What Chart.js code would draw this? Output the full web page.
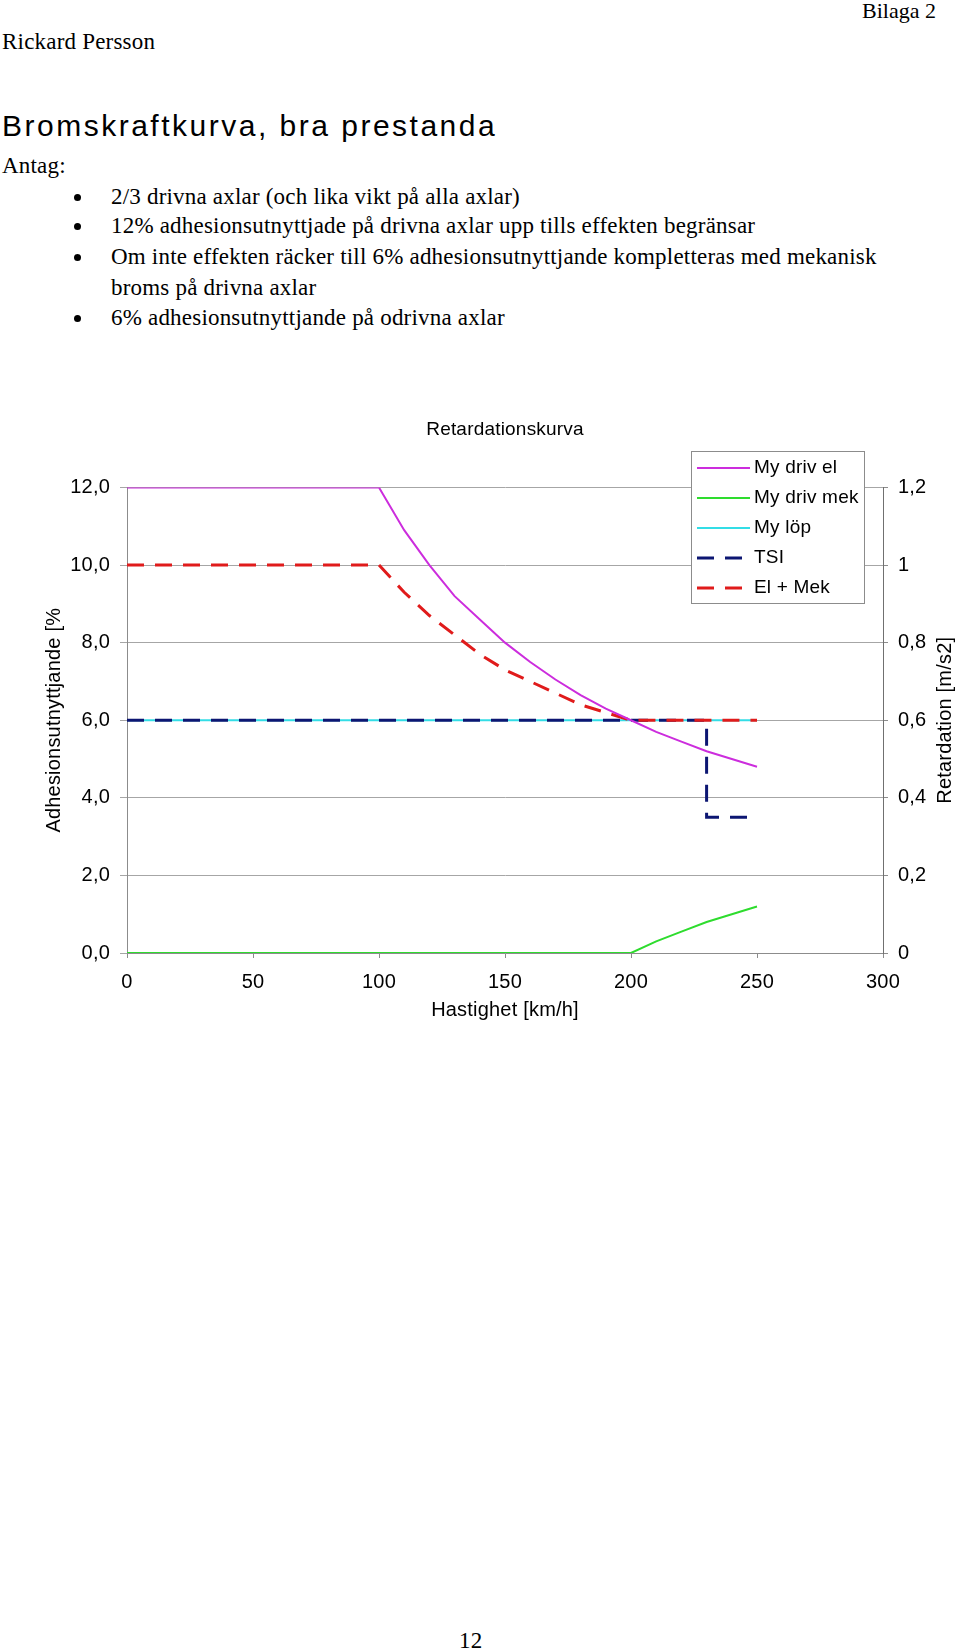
<!DOCTYPE html>
<html>
<head>
<meta charset="utf-8">
<script src="https://cdn.jsdelivr.net/npm/chart.js@4.4.0/dist/chart.umd.min.js"></script>
<style>
body { margin:0; width:960px; height:1649px; position:relative; background:#fff; overflow:hidden;
       font-family:"Liberation Serif", serif; font-size:23px; letter-spacing:0.2px; color:#000; }
.t { position:absolute; line-height:23px; white-space:nowrap; }
.dot { position:absolute; width:7px; height:7px; border-radius:50%; background:#000; }
#rubrik { font-family:"Liberation Sans", Arial, sans-serif; font-size:30px; line-height:30px; letter-spacing:2.5px; }
#chart { position:absolute; left:0; top:400px; }
</style>
</head>
<body>

<div class="t" style="right:24px;top:-1.4px;font-size:22px;letter-spacing:0;">Bilaga 2</div>
<div class="t" style="left:2px;top:29.7px;">Rickard Persson</div>
<div class="t" id="rubrik" style="left:2px;top:111.3px;">Bromskraftkurva, bra prestanda</div>
<div class="t" style="left:2px;top:153.7px;">Antag:</div>

<div class="dot" style="left:73.5px;top:193.5px;"></div>
<div class="t" style="left:111px;top:184.7px;">2/3 drivna axlar (och lika vikt på alla axlar)</div>
<div class="dot" style="left:73.5px;top:223px;"></div>
<div class="t" style="left:111px;top:214.2px;">12% adhesionsutnyttjade på drivna axlar upp tills effekten begränsar</div>
<div class="dot" style="left:73.5px;top:253.5px;"></div>
<div class="t" style="left:111px;top:244.7px;">Om inte effekten räcker till 6% adhesionsutnyttjande kompletteras med mekanisk</div>
<div class="t" style="left:111px;top:275.7px;">broms på drivna axlar</div>
<div class="dot" style="left:73.5px;top:315px;"></div>
<div class="t" style="left:111px;top:306.2px;">6% adhesionsutnyttjande på odrivna axlar</div>

<canvas id="chart" width="960" height="640"></canvas>

<div class="t" style="left:459px;top:1628.7px;">12</div>

<script>
// values
var speed     = [0,10,20,30,40,50,60,70,80,90,100,110,120,130,140,150,160,170,180,190,200,210,220,230,240,250];
var myDrivEl  = [12,12,12,12,12,12,12,12,12,12,12,10.9,10.0,9.2,8.6,8.0,7.5,7.05,6.65,6.3,6.0,5.7,5.45,5.2,5.0,4.8];
var myDrivMek = [0,0,0,0,0,0,0,0,0,0,0,0,0,0,0,0,0,0,0,0,0,0.3,0.55,0.8,1.0,1.2];
var myLop     = [6,6,6,6,6,6,6,6,6,6,6,6,6,6,6,6,6,6,6,6,6,6,6,6,6,6];
var elMek     = [10,10,10,10,10,10,10,10,10,10,10,9.3,8.7,8.2,7.7,7.3,7.0,6.7,6.4,6.2,6.0,6.0,6.0,6.0,6.0,6.0];
var tsiSpeed  = [0,230,230,250];
var tsi       = [6.0,6.0,3.5,3.5];

var labels = ["My driv el","My driv mek","My löp","TSI","El + Mek"];
var FONT = '"Liberation Sans", Arial, sans-serif';

function pts(xs, ys) {
  return xs.map(function(x, i){ return {x: x, y: ys[i]}; });
}

var legendBox = {
  id: 'legendBox',
  afterDraw: function(chart) {
    var ctx = chart.ctx, a = chart.chartArea;
    var x = a.right - 192, y = a.top - 36.5, w = 173, h = 152;
    ctx.save();
    ctx.fillStyle = '#fff';
    ctx.fillRect(x, y, w, h);
    ctx.strokeStyle = '#8c8c8c';
    ctx.lineWidth = 1;
    ctx.strokeRect(Math.round(x) + 0.5, Math.round(y) + 0.5, w, h);
    ctx.font = '19px ' + FONT;
    ctx.textBaseline = 'middle';
    chart.data.datasets.forEach(function(ds, i) {
      var yy = Math.round(y + 17 + i * 30);
      ctx.strokeStyle = ds.borderColor;
      ctx.lineWidth = ds.borderWidth;
      ctx.setLineDash(ds.borderDash || []);
      ctx.beginPath();
      ctx.moveTo(x + 6, yy);
      ctx.lineTo(x + 59, yy);
      ctx.stroke();
      ctx.setLineDash([]);
      ctx.fillStyle = '#000';
      ctx.fillText(ds.label, x + 63, yy);
    });
    // right axis title, reads bottom to top
    ctx.translate(945, (a.top + a.bottom) / 2);
    ctx.rotate(-Math.PI / 2);
    ctx.textAlign = 'center';
    ctx.font = '20px ' + FONT;
    ctx.fillText('Retardation [m/s2]', 0, 0);
    ctx.restore();
  }
};

new Chart(document.getElementById('chart'), {
  type: 'scatter',
  data: {
    datasets: [
      { label: labels[0], data: pts(speed, myDrivEl),  borderColor: '#cc2ddd', borderWidth: 2, order: 0 },
      { label: labels[1], data: pts(speed, myDrivMek), borderColor: '#2edc2e', borderWidth: 2, order: 4 },
      { label: labels[2], data: pts(speed, myLop),     borderColor: '#33dde6', borderWidth: 2, order: 3 },
      { label: labels[3], data: pts(tsiSpeed, tsi),    borderColor: '#0c1672', borderWidth: 3, borderDash: [17, 11], order: 2 },
      { label: labels[4], data: pts(speed, elMek),     borderColor: '#e01b1b', borderWidth: 3, borderDash: [17, 11], order: 1 }
    ]
  },
  options: {
    responsive: false,
    animation: false,
    devicePixelRatio: 1,
    showLine: true,
    elements: { point: { radius: 0, hoverRadius: 0 }, line: { tension: 0, fill: false } },
    layout: { padding: 0 },
    plugins: {
      legend: { display: false },
      tooltip: { enabled: false },
      title: {
        display: true,
        fullSize: false,
        text: 'Retardationskurva',
        color: '#000',
        font: { family: FONT, size: 19, weight: 'normal' },
        padding: { top: 18.6, bottom: 46.1 }
      }
    },
    scales: {
      x: {
        type: 'linear', position: 'bottom', min: 0, max: 300,
        ticks: { stepSize: 50, color: '#000', padding: 12, font: { family: FONT, size: 20 } },
        grid: { drawOnChartArea: false, tickLength: 5, color: '#8c8c8c' },
        border: { color: '#8c8c8c' },
        title: { display: true, text: 'Hastighet [km/h]', color: '#000',
                 font: { family: FONT, size: 20 }, padding: { top: 0, bottom: 18 } },
        afterFit: function(s) { s.height = 87; }
      },
      y: {
        type: 'linear', position: 'left', min: 0, max: 12,
        ticks: { stepSize: 2, color: '#000', padding: 10, font: { family: FONT, size: 20 },
                 callback: function(v) { return v.toFixed(1).replace('.', ','); } },
        grid: { color: '#a6a6a6', tickLength: 7 },
        border: { color: '#8c8c8c' },
        title: { display: true, text: 'Adhesionsutnyttjande [%', color: '#000',
                 font: { family: FONT, size: 20 }, padding: { top: 42, bottom: 0 } },
        afterFit: function(s) { s.width = 127; }
      },
      y2: {
        type: 'linear', position: 'right', min: 0, max: 1.2,
        ticks: { stepSize: 0.2, color: '#000', padding: 10, font: { family: FONT, size: 20 },
                 callback: function(v) { return String(Math.round(v * 10) / 10).replace('.', ','); } },
        grid: { drawOnChartArea: false, tickLength: 5, color: '#8c8c8c' },
        border: { color: '#707070' },
        afterFit: function(s) { s.width = 77; }
      }
    }
  },
  plugins: [legendBox]
});
</script>
</body>
</html>
